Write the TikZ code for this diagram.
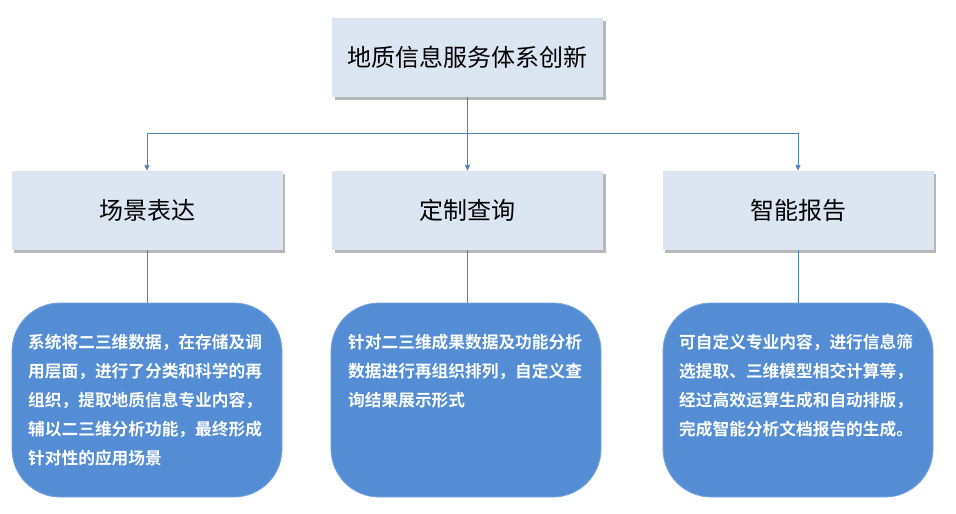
\documentclass[tikz,border=0pt]{standalone}
\usepackage{fontspec}
\newfontfamily\cjk{Noto Sans CJK SC}
\newfontfamily\cjkbold{Noto Sans CJK SC Bold}
\usepackage{tikz}
\usetikzlibrary{shadows,arrows.meta}
\definecolor{boxfill}{RGB}{220,230,242}
\definecolor{descfill}{RGB}{84,141,212}
\definecolor{descedge}{RGB}{120,165,222}
\definecolor{linkblue}{RGB}{79,129,189}
\tikzset{
	head/.style={draw=none, fill=boxfill, minimum width=271pt, minimum height=79pt, inner sep=0pt,
		drop shadow={shadow xshift=2.5pt, shadow yshift=-2.5pt, fill=gray!70, opacity=0.8},
		font=\cjk\fontsize{24}{27}\selectfont},
	desc/.style={draw=descedge, line width=0.8pt, fill=descfill, rounded corners=48pt,
		minimum width=270pt, minimum height=194pt, inner sep=0pt},
	desctext/.style={anchor=north west, inner sep=0pt, text=white, align=left,
		font=\cjkbold\fontsize{16.7}{29}\selectfont},
	link/.style={draw=linkblue, line width=0.9pt},
	linkarrow/.style={link, -{Triangle[length=6pt,width=5pt]}}
}
\begin{document}
\begin{tikzpicture}[x=1pt,y=-1pt]
		\useasboundingbox (0,0) rectangle (956,514);
		% top level
		\node[head] (top) at (467.5,57.5) {地质信息服务体系创新};
		% second level
		\node[head] (scene) at (147,210.5) {场景表达};
		\node[head] (query) at (467.5,210.5) {定制查询};
		\node[head] (report) at (798,210.5) {智能报告};
		% descriptions
		\node[desc] (sceneDesc) at (147,400) {};
		\node[desc] (queryDesc) at (466,400) {};
		\node[desc] (reportDesc) at (798,400) {};
		\node[desctext] (sceneTxt) at (28,334) {系统将二三维数据，在存储及调\\用层面，进行了分类和科学的再\\组织，提取地质信息专业内容，\\辅以二三维分析功能，最终形成\\针对性的应用场景};
		\node[desctext] (queryTxt) at (348,334) {针对二三维成果数据及功能分析\\数据进行再组织排列，自定义查\\询结果展示形式};
		\node[desctext] (reportTxt) at (679,334) {可自定义专业内容，进行信息筛\\选提取、三维模型相交计算等，\\经过高效运算生成和自动排版，\\完成智能分析文档报告的生成。};
		% connectors
		\coordinate (bus) at (467.5,133);
		\draw[link] (top.south) -- (bus);
		\draw[linkarrow] (bus) -- (query.north);
		\draw[linkarrow] (bus) -| (scene.north);
		\draw[linkarrow] (bus) -| (report.north);
		\draw[link] (scene.south) -- (sceneDesc.north);
		\draw[link] (query.south) -- (query.south |- queryDesc.north);
		\draw[link] (report.south) -- (reportDesc.north);
	\end{tikzpicture}
\end{document}
